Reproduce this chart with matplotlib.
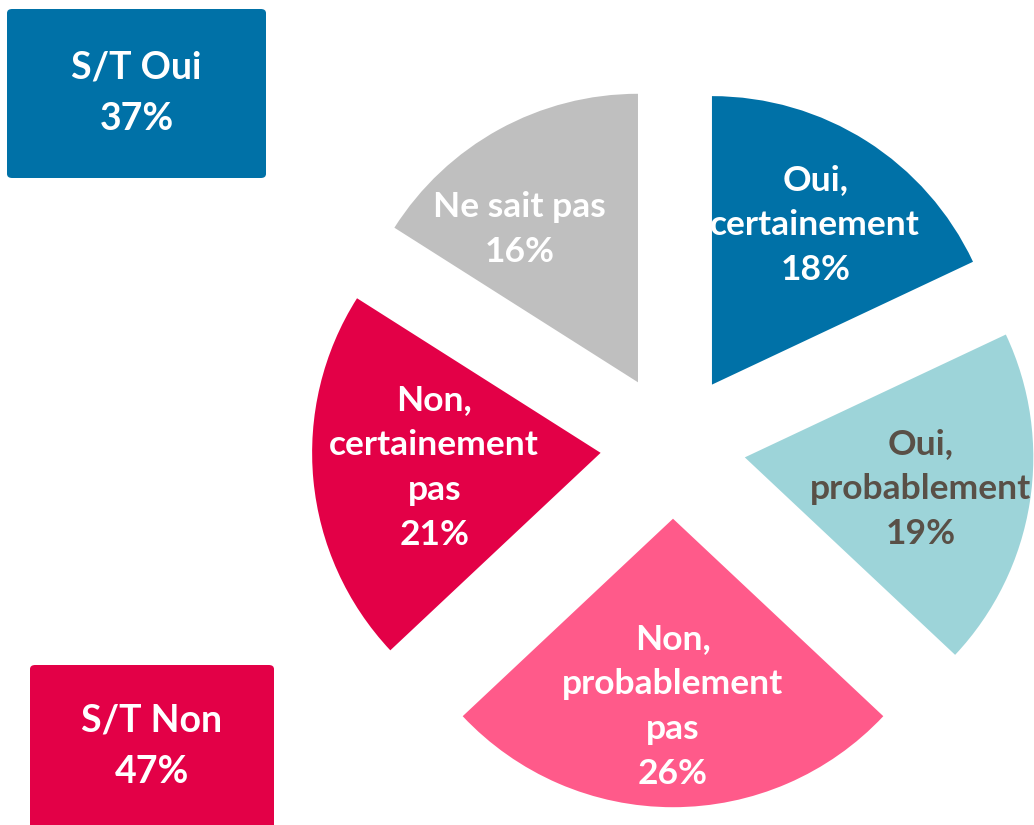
import numpy as np
import matplotlib
matplotlib.use("Agg")
import matplotlib.pyplot as plt
from matplotlib.patches import FancyBboxPatch

# --- data ---
labels = ["Oui,\ncertainement", "Oui,\nprobablement", "Non,\nprobablement\npas",
          "Non,\ncertainement\npas", "Ne sait pas"]
values = [18, 19, 26, 21, 16]
colors = ["#0071A7", "#9DD4D9", "#FF5A8A", "#E30047", "#BFBFBF"]
text_colors = ["white", "#595047", "white", "white", "white"]
summary_labels = ["S/T Oui", "S/T Non"]
summary_values = [37, 47]
summary_colors = ["#0071A7", "#E30047"]

# --- layout ---
W, H = 1034, 825
PX = 288.5                      # pie radius in pixels
CX, CY = 673, 446               # pie centre in pixels (from top-left)
EXPLODE = 0.252
label_dist = [0.92, 0.87, 0.89, 0.83, 0.93]   # from the unexploded centre
label_nudge = [0, 0, 0, -1, 6]                # degrees

FONT = ["Lato", "DejaVu Sans"]

fig = plt.figure(figsize=(W / 100, H / 100), dpi=100)
ax = fig.add_axes([0, 0, 1, 1])

ax.pie(values, colors=colors, startangle=90, counterclock=False,
       explode=[EXPLODE] * len(values), radius=1.0,
       wedgeprops=dict(linewidth=0))

ax.set_xlim(-CX / PX, (W - CX) / PX)
ax.set_ylim(-(H - CY) / PX, CY / PX)
ax.set_aspect("equal")
ax.axis("off")

# slice labels along each wedge bisector
cum = np.cumsum([0] + values[:-1])
for i, (lab, v) in enumerate(zip(labels, values)):
    mid = 90 - (cum[i] + v / 2) / sum(values) * 360 + label_nudge[i]
    t = np.deg2rad(mid)
    ax.text(label_dist[i] * np.cos(t), label_dist[i] * np.sin(t) - 0.012,
            f"{lab}\n{v}%", ha="center", va="center", color=text_colors[i],
            fontsize=25.5, fontweight="bold", family=FONT, linespacing=1.5)

# summary boxes (figure pixel coords: x0, y0 top, x1, y1 bottom)
boxes = [(7, 9, 266, 178), (30, 665, 274, 835)]
text_y = [93, 746]
for (x0, y0, x1, y1), ty, lab, v, c in zip(boxes, text_y, summary_labels,
                                          summary_values, summary_colors):
    fig.patches.append(FancyBboxPatch(
        (x0 / W, 1 - y1 / H), (x1 - x0) / W, (y1 - y0) / H,
        boxstyle="round,pad=0,rounding_size=0.005", transform=fig.transFigure,
        facecolor=c, edgecolor="none"))
    fig.text((x0 + x1) / 2 / W, 1 - ty / H, f"{lab}\n{v}%",
             ha="center", va="center", color="white", fontsize=27,
             fontweight="bold", family=FONT, linespacing=1.62)

fig.savefig("out.png", dpi=100)
